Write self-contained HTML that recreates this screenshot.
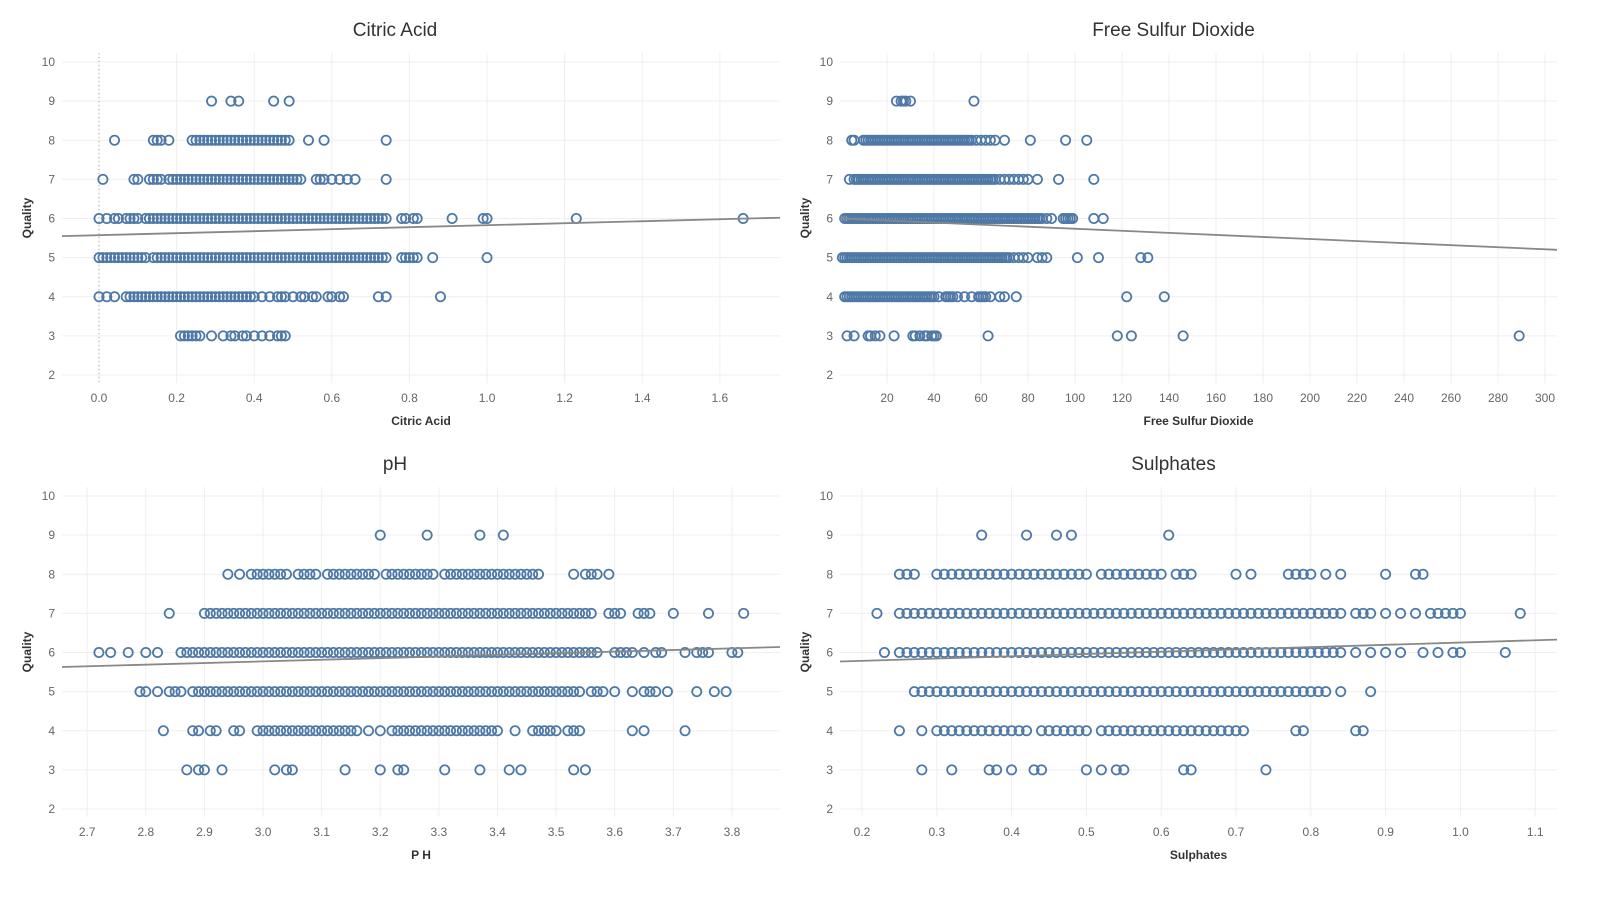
<!DOCTYPE html>
<html><head><meta charset="utf-8"><style>
body{margin:0;background:#fff;}
svg text{font-family:"Liberation Sans",sans-serif;}
</style></head><body>
<svg id="c" width="1597" height="894" xmlns="http://www.w3.org/2000/svg"></svg>
<script>
const yTicks=[2,3,4,5,6,7,8,9,10];
// Citric acid
const citricTicks=[0.0,0.2,0.4,0.6,0.8,1.0,1.2,1.4,1.6];
const citricQ9=[0.29,0.34,0.36,0.45,0.49];
const citricQ8=[0.04,0.14,0.15,0.16,0.18,0.24,0.25,0.26,0.27,0.28,0.29,0.30,0.31,0.32,0.33,0.34,0.35,0.36,0.37,0.38,0.39,0.40,0.41,0.42,0.43,0.44,0.45,0.46,0.47,0.48,0.49,0.54,0.58,0.74];
const citricQ7=[0.01,0.09,0.10,0.13,0.14,0.15,0.16,0.18,0.19,0.20,0.21,0.22,0.23,0.24,0.25,0.26,0.27,0.28,0.29,0.30,0.31,0.32,0.33,0.34,0.35,0.36,0.37,0.38,0.39,0.40,0.41,0.42,0.43,0.44,0.45,0.46,0.47,0.48,0.49,0.50,0.51,0.52,0.56,0.57,0.58,0.60,0.62,0.64,0.66,0.74];
const citricQ6=[0.00,0.02,0.04,0.05,0.07,0.08,0.09,0.10,0.12,0.13,0.14,0.15,0.16,0.17,0.18,0.19,0.20,0.21,0.22,0.23,0.24,0.25,0.26,0.27,0.28,0.29,0.30,0.31,0.32,0.33,0.34,0.35,0.36,0.37,0.38,0.39,0.40,0.41,0.42,0.43,0.44,0.45,0.46,0.47,0.48,0.49,0.50,0.51,0.52,0.53,0.54,0.55,0.56,0.57,0.58,0.59,0.60,0.61,0.62,0.63,0.64,0.65,0.66,0.67,0.68,0.69,0.70,0.71,0.72,0.73,0.74,0.78,0.79,0.81,0.82,0.91,0.99,1.00,1.23,1.66];
const citricQ5=[0.00,0.01,0.02,0.03,0.04,0.05,0.06,0.07,0.08,0.09,0.10,0.11,0.12,0.14,0.15,0.16,0.17,0.18,0.19,0.20,0.21,0.22,0.23,0.24,0.25,0.26,0.27,0.28,0.29,0.30,0.31,0.32,0.33,0.34,0.35,0.36,0.37,0.38,0.39,0.40,0.41,0.42,0.43,0.44,0.45,0.46,0.47,0.48,0.49,0.50,0.51,0.52,0.53,0.54,0.55,0.56,0.57,0.58,0.59,0.60,0.61,0.62,0.63,0.64,0.65,0.66,0.67,0.68,0.69,0.70,0.71,0.72,0.73,0.74,0.78,0.79,0.80,0.81,0.82,0.86,1.00];
const citricQ4=[0.00,0.02,0.04,0.07,0.08,0.09,0.10,0.11,0.12,0.13,0.14,0.15,0.16,0.17,0.18,0.19,0.20,0.21,0.22,0.23,0.24,0.25,0.26,0.27,0.28,0.29,0.30,0.31,0.32,0.33,0.34,0.35,0.36,0.37,0.38,0.39,0.40,0.42,0.44,0.46,0.47,0.48,0.50,0.52,0.53,0.55,0.56,0.59,0.60,0.62,0.63,0.72,0.74,0.88];
const citricQ3=[0.21,0.22,0.23,0.24,0.25,0.26,0.29,0.32,0.34,0.35,0.37,0.38,0.40,0.42,0.44,0.46,0.47,0.48];
const citricTrend=[5.55,6.02];
// Free sulfur dioxide
const fsoTicks=[20,40,60,80,100,120,140,160,180,200,220,240,260,280,300];
const fsoQ9=[24,26,27,28,30,57];
const fsoQ8=[5,6,10,11,12,13,14,15,16,17,18,19,20,21,22,23,24,25,26,27,28,29,30,31,32,33,34,35,36,37,38,39,40,41,42,43,44,45,46,47,48,49,50,51,52,53,54,55,56,58,60,62,64,66,70,81,96,105];
const fsoQ7=[4,6,7,8,9,10,11,12,13,14,15,16,17,18,19,20,21,22,23,24,25,26,27,28,29,30,31,32,33,34,35,36,37,38,39,40,41,42,43,44,45,46,47,48,49,50,51,52,53,54,55,56,57,58,59,60,61,62,63,64,65,66,68,70,72,74,76,78,80,84,93,108];
const fsoQ6=[2,3,4,5,6,7,8,9,10,11,12,13,14,15,16,17,18,19,20,21,22,23,24,25,26,27,28,29,30,31,32,33,34,35,36,37,38,39,40,41,42,43,44,45,46,47,48,49,50,51,52,53,54,55,56,57,58,59,60,61,62,63,64,65,66,67,68,69,70,71,72,73,74,75,76,77,78,79,80,81,82,83,84,85,86,88,90,95,96,97,98,99,108,112];
const fsoQ5=[1,2,3,4,5,6,7,8,9,10,11,12,13,14,15,16,17,18,19,20,21,22,23,24,25,26,27,28,29,30,31,32,33,34,35,36,37,38,39,40,41,42,43,44,45,46,47,48,49,50,51,52,53,54,55,56,57,58,59,60,61,62,63,64,65,66,67,68,69,70,71,72,74,76,78,80,84,86,88,101,110,128,131];
const fsoQ4=[2,3,4,5,6,7,8,9,10,11,12,13,14,15,16,17,18,19,20,21,22,23,24,25,26,27,28,29,30,31,32,33,34,35,36,37,38,39,40,42,45,46,47,48,50,53,56,59,60,61,62,64,68,70,75,122,138];
const fsoQ3=[3,6,12,13,15,17,23,31,32,34,36,37,39,40,41,63,118,124,146,289];
const fsoTrend=[6.0,5.2];
// pH
const phTicks=[2.7,2.8,2.9,3.0,3.1,3.2,3.3,3.4,3.5,3.6,3.7,3.8];
const phQ9=[3.20,3.28,3.37,3.41];
const phQ8=[2.94,2.96,2.98,2.99,3.00,3.01,3.02,3.03,3.04,3.06,3.07,3.08,3.09,3.11,3.12,3.13,3.14,3.15,3.16,3.17,3.18,3.19,3.21,3.22,3.23,3.24,3.25,3.26,3.27,3.28,3.29,3.31,3.32,3.33,3.34,3.35,3.36,3.37,3.38,3.39,3.40,3.41,3.42,3.43,3.44,3.45,3.46,3.47,3.53,3.55,3.56,3.57,3.59];
const phQ7=[2.84,2.90,2.91,2.92,2.93,2.94,2.95,2.96,2.97,2.98,2.99,3.00,3.01,3.02,3.03,3.04,3.05,3.06,3.07,3.08,3.09,3.10,3.11,3.12,3.13,3.14,3.15,3.16,3.17,3.18,3.19,3.20,3.21,3.22,3.23,3.24,3.25,3.26,3.27,3.28,3.29,3.30,3.31,3.32,3.33,3.34,3.35,3.36,3.37,3.38,3.39,3.40,3.41,3.42,3.43,3.44,3.45,3.46,3.47,3.48,3.49,3.50,3.51,3.52,3.53,3.54,3.55,3.56,3.59,3.60,3.61,3.64,3.65,3.66,3.70,3.76,3.82];
const phQ6=[2.72,2.74,2.77,2.80,2.82,2.86,2.87,2.88,2.89,2.90,2.91,2.92,2.93,2.94,2.95,2.96,2.97,2.98,2.99,3.00,3.01,3.02,3.03,3.04,3.05,3.06,3.07,3.08,3.09,3.10,3.11,3.12,3.13,3.14,3.15,3.16,3.17,3.18,3.19,3.20,3.21,3.22,3.23,3.24,3.25,3.26,3.27,3.28,3.29,3.30,3.31,3.32,3.33,3.34,3.35,3.36,3.37,3.38,3.39,3.40,3.41,3.42,3.43,3.44,3.45,3.46,3.47,3.48,3.49,3.50,3.51,3.52,3.53,3.54,3.55,3.56,3.57,3.60,3.61,3.62,3.63,3.65,3.67,3.68,3.72,3.74,3.75,3.76,3.80,3.81];
const phQ5=[2.79,2.80,2.82,2.84,2.85,2.86,2.88,2.89,2.90,2.91,2.92,2.93,2.94,2.95,2.96,2.97,2.98,2.99,3.00,3.01,3.02,3.03,3.04,3.05,3.06,3.07,3.08,3.09,3.10,3.11,3.12,3.13,3.14,3.15,3.16,3.17,3.18,3.19,3.20,3.21,3.22,3.23,3.24,3.25,3.26,3.27,3.28,3.29,3.30,3.31,3.32,3.33,3.34,3.35,3.36,3.37,3.38,3.39,3.40,3.41,3.42,3.43,3.44,3.45,3.46,3.47,3.48,3.49,3.50,3.51,3.52,3.53,3.54,3.56,3.57,3.58,3.60,3.63,3.65,3.66,3.67,3.69,3.74,3.77,3.79];
const phQ4=[2.83,2.88,2.89,2.91,2.92,2.95,2.96,2.99,3.00,3.01,3.02,3.03,3.04,3.05,3.06,3.07,3.08,3.09,3.10,3.11,3.12,3.13,3.14,3.15,3.16,3.18,3.20,3.22,3.23,3.24,3.25,3.26,3.27,3.28,3.29,3.30,3.31,3.32,3.33,3.34,3.35,3.36,3.37,3.38,3.39,3.40,3.43,3.46,3.47,3.48,3.49,3.50,3.52,3.53,3.54,3.63,3.65,3.72];
const phQ3=[2.87,2.89,2.90,2.93,3.02,3.04,3.05,3.14,3.20,3.23,3.24,3.31,3.37,3.42,3.44,3.53,3.55];
const phTrend=[5.63,6.14];
// Sulphates
const sulTicks=[0.2,0.3,0.4,0.5,0.6,0.7,0.8,0.9,1.0,1.1];
const sulQ9=[0.36,0.42,0.46,0.48,0.61];
const sulQ8=[0.25,0.26,0.27,0.30,0.31,0.32,0.33,0.34,0.35,0.36,0.37,0.38,0.39,0.40,0.41,0.42,0.43,0.44,0.45,0.46,0.47,0.48,0.49,0.50,0.52,0.53,0.54,0.55,0.56,0.57,0.58,0.59,0.60,0.62,0.63,0.64,0.70,0.72,0.77,0.78,0.79,0.80,0.82,0.84,0.90,0.94,0.95];
const sulQ7=[0.22,0.25,0.26,0.27,0.28,0.29,0.30,0.31,0.32,0.33,0.34,0.35,0.36,0.37,0.38,0.39,0.40,0.41,0.42,0.43,0.44,0.45,0.46,0.47,0.48,0.49,0.50,0.51,0.52,0.53,0.54,0.55,0.56,0.57,0.58,0.59,0.60,0.61,0.62,0.63,0.64,0.65,0.66,0.67,0.68,0.69,0.70,0.71,0.72,0.73,0.74,0.75,0.76,0.77,0.78,0.79,0.80,0.81,0.82,0.83,0.84,0.86,0.87,0.88,0.90,0.92,0.94,0.96,0.97,0.98,0.99,1.00,1.08];
const sulQ6=[0.23,0.25,0.26,0.27,0.28,0.29,0.30,0.31,0.32,0.33,0.34,0.35,0.36,0.37,0.38,0.39,0.40,0.41,0.42,0.43,0.44,0.45,0.46,0.47,0.48,0.49,0.50,0.51,0.52,0.53,0.54,0.55,0.56,0.57,0.58,0.59,0.60,0.61,0.62,0.63,0.64,0.65,0.66,0.67,0.68,0.69,0.70,0.71,0.72,0.73,0.74,0.75,0.76,0.77,0.78,0.79,0.80,0.81,0.82,0.83,0.84,0.86,0.88,0.90,0.92,0.95,0.97,0.99,1.00,1.06];
const sulQ5=[0.27,0.28,0.29,0.30,0.31,0.32,0.33,0.34,0.35,0.36,0.37,0.38,0.39,0.40,0.41,0.42,0.43,0.44,0.45,0.46,0.47,0.48,0.49,0.50,0.51,0.52,0.53,0.54,0.55,0.56,0.57,0.58,0.59,0.60,0.61,0.62,0.63,0.64,0.65,0.66,0.67,0.68,0.69,0.70,0.71,0.72,0.73,0.74,0.75,0.76,0.77,0.78,0.79,0.80,0.81,0.82,0.84,0.88];
const sulQ4=[0.25,0.28,0.30,0.31,0.32,0.33,0.34,0.35,0.36,0.37,0.38,0.39,0.40,0.41,0.42,0.44,0.45,0.46,0.47,0.48,0.49,0.50,0.52,0.53,0.54,0.55,0.56,0.57,0.58,0.59,0.60,0.61,0.62,0.63,0.64,0.65,0.66,0.67,0.68,0.69,0.70,0.71,0.78,0.79,0.86,0.87];
const sulQ3=[0.28,0.32,0.37,0.38,0.40,0.43,0.44,0.50,0.52,0.54,0.55,0.63,0.64,0.74];
const sulTrend=[5.77,6.33];

const NS='http://www.w3.org/2000/svg';
const svg=document.getElementById('c');
function mk(tag,attrs,parent){const e=document.createElementNS(NS,tag);for(const k in attrs)e.setAttribute(k,attrs[k]);(parent||svg).appendChild(e);return e;}

function panel(p){
  const g=mk('g',{});
  
  
  const xs=v=>p.left+(v-p.xmin)/(p.xmax-p.xmin)*(p.right-p.left);
  const ys=v=>p.y10+(10-v)/8*(p.y2-p.y10);
  p.ticks.forEach((t,i)=>{
    const l=mk('line',{x1:xs(t),x2:xs(t),y1:p.top,y2:p.bottom,stroke:'#efefef','stroke-width':1},g);
    
    
    const tx=mk('text',{x:xs(t),y:p.bottom+19,'font-size':12,fill:'#666','text-anchor':'middle'},g);
    
    
    tx.textContent=p.fmt(t);
  });
  yTicks.forEach(t=>{
    const l=mk('line',{x1:p.left,x2:p.right,y1:ys(t),y2:ys(t),stroke:'#efefef','stroke-width':1},g);
    
    
    const tx=mk('text',{x:p.left-7,y:ys(t)+4,'font-size':12,fill:'#666','text-anchor':'end'},g);
    
    
    tx.textContent=t;
  });
  if(p.zero){
    const z=mk('line',{x1:xs(0),x2:xs(0),y1:p.top,y2:p.bottom,stroke:'#aaa','stroke-width':1,'stroke-dasharray':'1,3'},g);
    
    
  }
  const tt=mk('text',{x:(p.left+p.right)/2+p.titleDx,y:p.top-17,'font-size':19,fill:'#333','text-anchor':'middle'},g);
  
  
  tt.textContent=p.title;
  const xt=mk('text',{x:(p.left+p.right)/2+p.xtDx,y:p.bottom+42,'font-size':12,fill:'#333','font-weight':'bold','text-anchor':'middle'},g);
  
  
  xt.textContent=p.xtitle;
  const cy=(p.top+p.bottom)/2;
  const yt=mk('text',{x:p.left-31,y:cy,'font-size':12,fill:'#333','font-weight':'bold','text-anchor':'middle',transform:`rotate(-90 ${p.left-31} ${cy})`},g);
  
  
  yt.textContent='Quality';
  p.series.forEach(([q,arr])=>{
    arr.forEach(v=>{
      const c=mk('circle',{cx:xs(v),cy:ys(q),r:4.6,fill:'none',stroke:'#4e79a7','stroke-width':1.8},g);
      
      
    });
  });
  const tl=mk('line',{x1:xs(p.xmin),y1:ys(p.trend[0]),x2:xs(p.xmax),y2:ys(p.trend[1]),stroke:'#888','stroke-width':1.8},g);
  
  
}
const f1=t=>t.toFixed(1);
panel({name:'citric-acid',title:'Citric Acid',xtitle:'Citric Acid',left:62,right:780,top:53,bottom:383,y10:62,y2:375,xmin:-0.0954,xmax:1.755,ticks:citricTicks,fmt:f1,zero:true,titleDx:-26,xtDx:0,trend:citricTrend,
 series:[[9,citricQ9],[8,citricQ8],[7,citricQ7],[6,citricQ6],[5,citricQ5],[4,citricQ4],[3,citricQ3]]});
panel({name:'free-sulfur-dioxide',title:'Free Sulfur Dioxide',xtitle:'Free Sulfur Dioxide',left:840,right:1557,top:53,bottom:383,y10:62,y2:375,xmin:0,xmax:305.1,ticks:fsoTicks,fmt:t=>t,zero:false,titleDx:-25,xtDx:0,trend:fsoTrend,
 series:[[9,fsoQ9],[8,fsoQ8],[7,fsoQ7],[6,fsoQ6],[5,fsoQ5],[4,fsoQ4],[3,fsoQ3]]});
panel({name:'ph',title:'pH',xtitle:'P H',left:62,right:780,top:487,bottom:817,y10:496,y2:809,xmin:2.657,xmax:3.882,ticks:phTicks,fmt:f1,zero:false,titleDx:-26,xtDx:0,trend:phTrend,
 series:[[9,phQ9],[8,phQ8],[7,phQ7],[6,phQ6],[5,phQ5],[4,phQ4],[3,phQ3]]});
panel({name:'sulphates',title:'Sulphates',xtitle:'Sulphates',left:840,right:1557,top:487,bottom:817,y10:496,y2:809,xmin:0.1706,xmax:1.1291,ticks:sulTicks,fmt:f1,zero:false,titleDx:-25,xtDx:0,trend:sulTrend,
 series:[[9,sulQ9],[8,sulQ8],[7,sulQ7],[6,sulQ6],[5,sulQ5],[4,sulQ4],[3,sulQ3]]});
</script>
</body></html>
